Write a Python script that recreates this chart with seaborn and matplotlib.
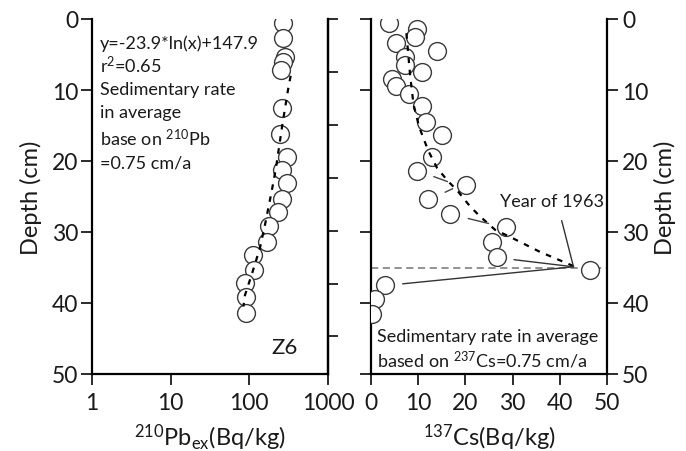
import matplotlib
matplotlib.use("Agg")
import matplotlib.pyplot as plt
import seaborn as sns
import pandas as pd

# ---------------- data ----------------
pb_depth = [0.5, 2.7, 5.3, 6.0, 7.2, 12.6, 16.2, 19.5, 21.3, 23.1, 25.3, 27.2,
            29.2, 31.4, 33.2, 35.3, 37.2, 39.1, 41.4]
pb_activity = [270, 270, 283, 270, 250, 257, 245, 305, 257, 303, 257, 233,
               179, 166, 112, 114, 88, 91, 92]

pb_fit_depth = [8, 10, 15, 21, 24.3, 29, 32.3, 35.6, 38.9, 40.5]
pb_fit_activity = [335, 310, 262, 218, 192, 158, 136, 110, 88, 84]

cs_depth = [0.5, 1.4, 2.5, 3.4, 4.5, 5.3, 6.5, 7.4, 8.4, 9.5, 10.5, 12.3, 14.5,
            16.3, 19.4, 21.4, 23.4, 25.4, 27.4, 29.3, 31.4, 33.5, 35.4, 37.4,
            39.4, 41.5]
cs_activity = [3.9, 9.7, 9.4, 5.3, 14.0, 7.2, 7.1, 10.9, 4.4, 5.2, 8.1, 10.7,
               11.7, 15.0, 13.0, 9.7, 20.1, 12.0, 16.8, 28.6, 25.6, 26.6, 46.4,
               3.0, 0.9, 0.2]

cs_fit_depth = [2, 5, 8, 12, 15.2, 18.5, 21.0, 22.9, 24.1, 26.4, 27.8, 29.7,
                30.9, 32.8, 34.8]
cs_fit_activity = [7.5, 7.9, 8.3, 9.0, 10.2, 12.1, 14.0, 16.4, 18.2, 21.0,
                   23.1, 26.3, 30.1, 35.8, 42.9]

year_1963_depth = 35.0
leader_start_cs = [40.4, 30.3, 6.7]
leader_start_depth = [28.4, 33.9, 37.3]
leader_end_cs = 42.9
leader_end_depth = 34.9
short_leaders_cs = [[13.3, 16.2], [15.7, 17.3], [20.6, 24.9]]
short_leaders_depth = [[22.2, 22.9], [24.4, 23.9], [28.1, 28.8]]

pb_xticks = [1, 10, 100, 1000]
cs_xticks = [0, 10, 20, 30, 40, 50]
depth_ticks = [0, 10, 20, 30, 40, 50]

# ---------------- style ----------------
sns.set_theme(style="white")
plt.rcParams["font.family"] = ["Lato", "DejaVu Sans"]
plt.rcParams["mathtext.fontset"] = "custom"
plt.rcParams["mathtext.rm"] = "Lato"
plt.rcParams["mathtext.it"] = "Lato:italic"
plt.rcParams["mathtext.bf"] = "Lato:bold"
plt.rcParams["text.color"] = "#1a1a1a"
plt.rcParams["axes.labelcolor"] = "#1a1a1a"
plt.rcParams["xtick.color"] = "#1a1a1a"
plt.rcParams["ytick.color"] = "#1a1a1a"

W, H = 686, 452
fig = plt.figure(figsize=(W / 100, H / 100), dpi=100)
ax1 = fig.add_axes([92 / W, 77 / H, 236 / W, 355 / H])
ax2 = fig.add_axes([371 / W, 77 / H, 236 / W, 355 / H])

edge = "#3a3a3a"
msize = 165
tick_fs = 16.5
label_fs = 17
note_fs = 13

pb_df = pd.DataFrame({"activity": pb_activity, "depth": pb_depth})
pb_fit = pd.DataFrame({"activity": pb_fit_activity, "depth": pb_fit_depth})
cs_df = pd.DataFrame({"activity": cs_activity, "depth": cs_depth})
cs_fit = pd.DataFrame({"activity": cs_fit_activity, "depth": cs_fit_depth})

# ---------------- left panel (210Pb) ----------------
sns.scatterplot(data=pb_df, x="activity", y="depth", ax=ax1, s=msize,
                facecolor="white", edgecolor=edge, linewidth=1.0, zorder=3)
sns.lineplot(data=pb_fit, x="activity", y="depth", ax=ax1, sort=False,
             estimator=None, color="black", lw=1.6, ls=(0, (2.5, 3)), zorder=4)
ax1.set_xscale("log")
ax1.set_xlim(1, 1000)
ax1.set_ylim(50, 0)
ax1.set_xticks(pb_xticks)
ax1.set_xticklabels([str(t) for t in pb_xticks])
ax1.minorticks_off()
ax1.set_yticks(depth_ticks)
ax1.set_yticklabels([str(t) for t in depth_ticks])
ax1.tick_params(axis="both", which="major", direction="out", length=8,
                width=1.3, labelsize=tick_fs, left=True, bottom=True)
ax1.tick_params(axis="x", pad=5)
ax1.tick_params(axis="y", pad=2)
ax1.spines["top"].set_visible(False)
for s in ["left", "bottom", "right"]:
    ax1.spines[s].set_color("black")
    ax1.spines[s].set_linewidth(1.6)
ax1.set_xlabel(r"$^{210}$Pb$_{\mathrm{ex}}$(Bq/kg)", fontsize=label_fs)
ax1.set_ylabel("Depth (cm)", fontsize=label_fs)
ax1.xaxis.set_label_coords(0.5, -0.178)
ax1.xaxis.label.set_va("center")
ax1.yaxis.set_label_coords(-0.26, 0.5)
ax1.yaxis.label.set_va("center")

# unlabeled ticks on the right spine of the left panel
axt = ax1.twinx()
axt.set_ylim(6.71, 0)
axt.set_yticks(range(7))
axt.set_yticklabels([])
axt.tick_params(axis="y", right=True, direction="out", length=7, width=1.3)
for s in ["top", "left", "bottom"]:
    axt.spines[s].set_visible(False)
axt.spines["right"].set_color("black")
axt.spines["right"].set_linewidth(1.6)
axt.grid(False)

pb_lines = ["y=-23.9*ln(x)+147.9", r"r$^{2}$=0.65", "Sedimentary rate",
            "in average", r"base on $^{210}$Pb", "=0.75 cm/a"]
pb_line_y = [43.3, 65, 90, 113.3, 138.3, 163.3]
for txt, py in zip(pb_lines, pb_line_y):
    ax1.text(0.034, (375 - py) / 355, txt, transform=ax1.transAxes,
             fontsize=note_fs, ha="left", va="center", zorder=6)
ax1.text(0.818, 0.076, "Z6", transform=ax1.transAxes, fontsize=16,
         ha="center", va="center")

# ---------------- right panel (137Cs) ----------------
ax2.axhline(year_1963_depth, color="#8a8a8a", lw=1.3, ls=(0, (4, 2.5)),
            zorder=2)
sns.scatterplot(data=cs_df, x="activity", y="depth", ax=ax2, s=msize,
                facecolor="white", edgecolor=edge, linewidth=1.0, zorder=3)
sns.lineplot(data=cs_fit, x="activity", y="depth", ax=ax2, sort=False,
             estimator=None, color="black", lw=1.6, ls=(0, (2.5, 3)), zorder=4)
for xs, ys in zip(leader_start_cs, leader_start_depth):
    ax2.plot([xs, leader_end_cs], [ys, leader_end_depth], color="#333333",
             lw=1.0, zorder=4)
for xs, ys in zip(short_leaders_cs, short_leaders_depth):
    ax2.plot(xs, ys, color="#444444", lw=1.0, zorder=4)

ax2.set_xlim(0, 50)
ax2.set_ylim(50, 0)
ax2.set_xticks(cs_xticks)
ax2.set_xticklabels([str(t) for t in cs_xticks])
ax2.set_yticks(depth_ticks)
ax2.set_yticklabels([str(t) for t in depth_ticks])
ax2.yaxis.tick_right()
ax2.yaxis.set_label_position("right")
ax2.tick_params(axis="y", left=True, right=True, labelleft=False,
                labelright=True, direction="out", length=8, width=1.3,
                labelsize=tick_fs, pad=3)
ax2.tick_params(axis="x", bottom=True, direction="out", length=8, width=1.3,
                labelsize=tick_fs, pad=5)
ax2.spines["top"].set_visible(False)
for s in ["left", "bottom", "right"]:
    ax2.spines[s].set_color("black")
    ax2.spines[s].set_linewidth(1.6)
ax2.set_xlabel(r"$^{137}$Cs(Bq/kg)", fontsize=label_fs)
ax2.set_ylabel("Depth (cm)", fontsize=label_fs, rotation=90)
ax2.xaxis.set_label_coords(0.5, -0.178)
ax2.xaxis.label.set_va("center")
ax2.yaxis.set_label_coords(1.245, 0.5)
ax2.yaxis.label.set_va("center")

ax2.text(0.547, (375 - 202) / 355, "Year of 1963", transform=ax2.transAxes,
         fontsize=note_fs, ha="left", va="center")
ax2.text(0.025, (375 - 337) / 355, "Sedimentary rate in average",
         transform=ax2.transAxes, fontsize=note_fs, ha="left", va="center")
ax2.text(0.025, (375 - 360) / 355, r"based on $^{237}$Cs=0.75 cm/a",
         transform=ax2.transAxes, fontsize=note_fs, ha="left", va="center")

fig.savefig("out.png", dpi=100)
